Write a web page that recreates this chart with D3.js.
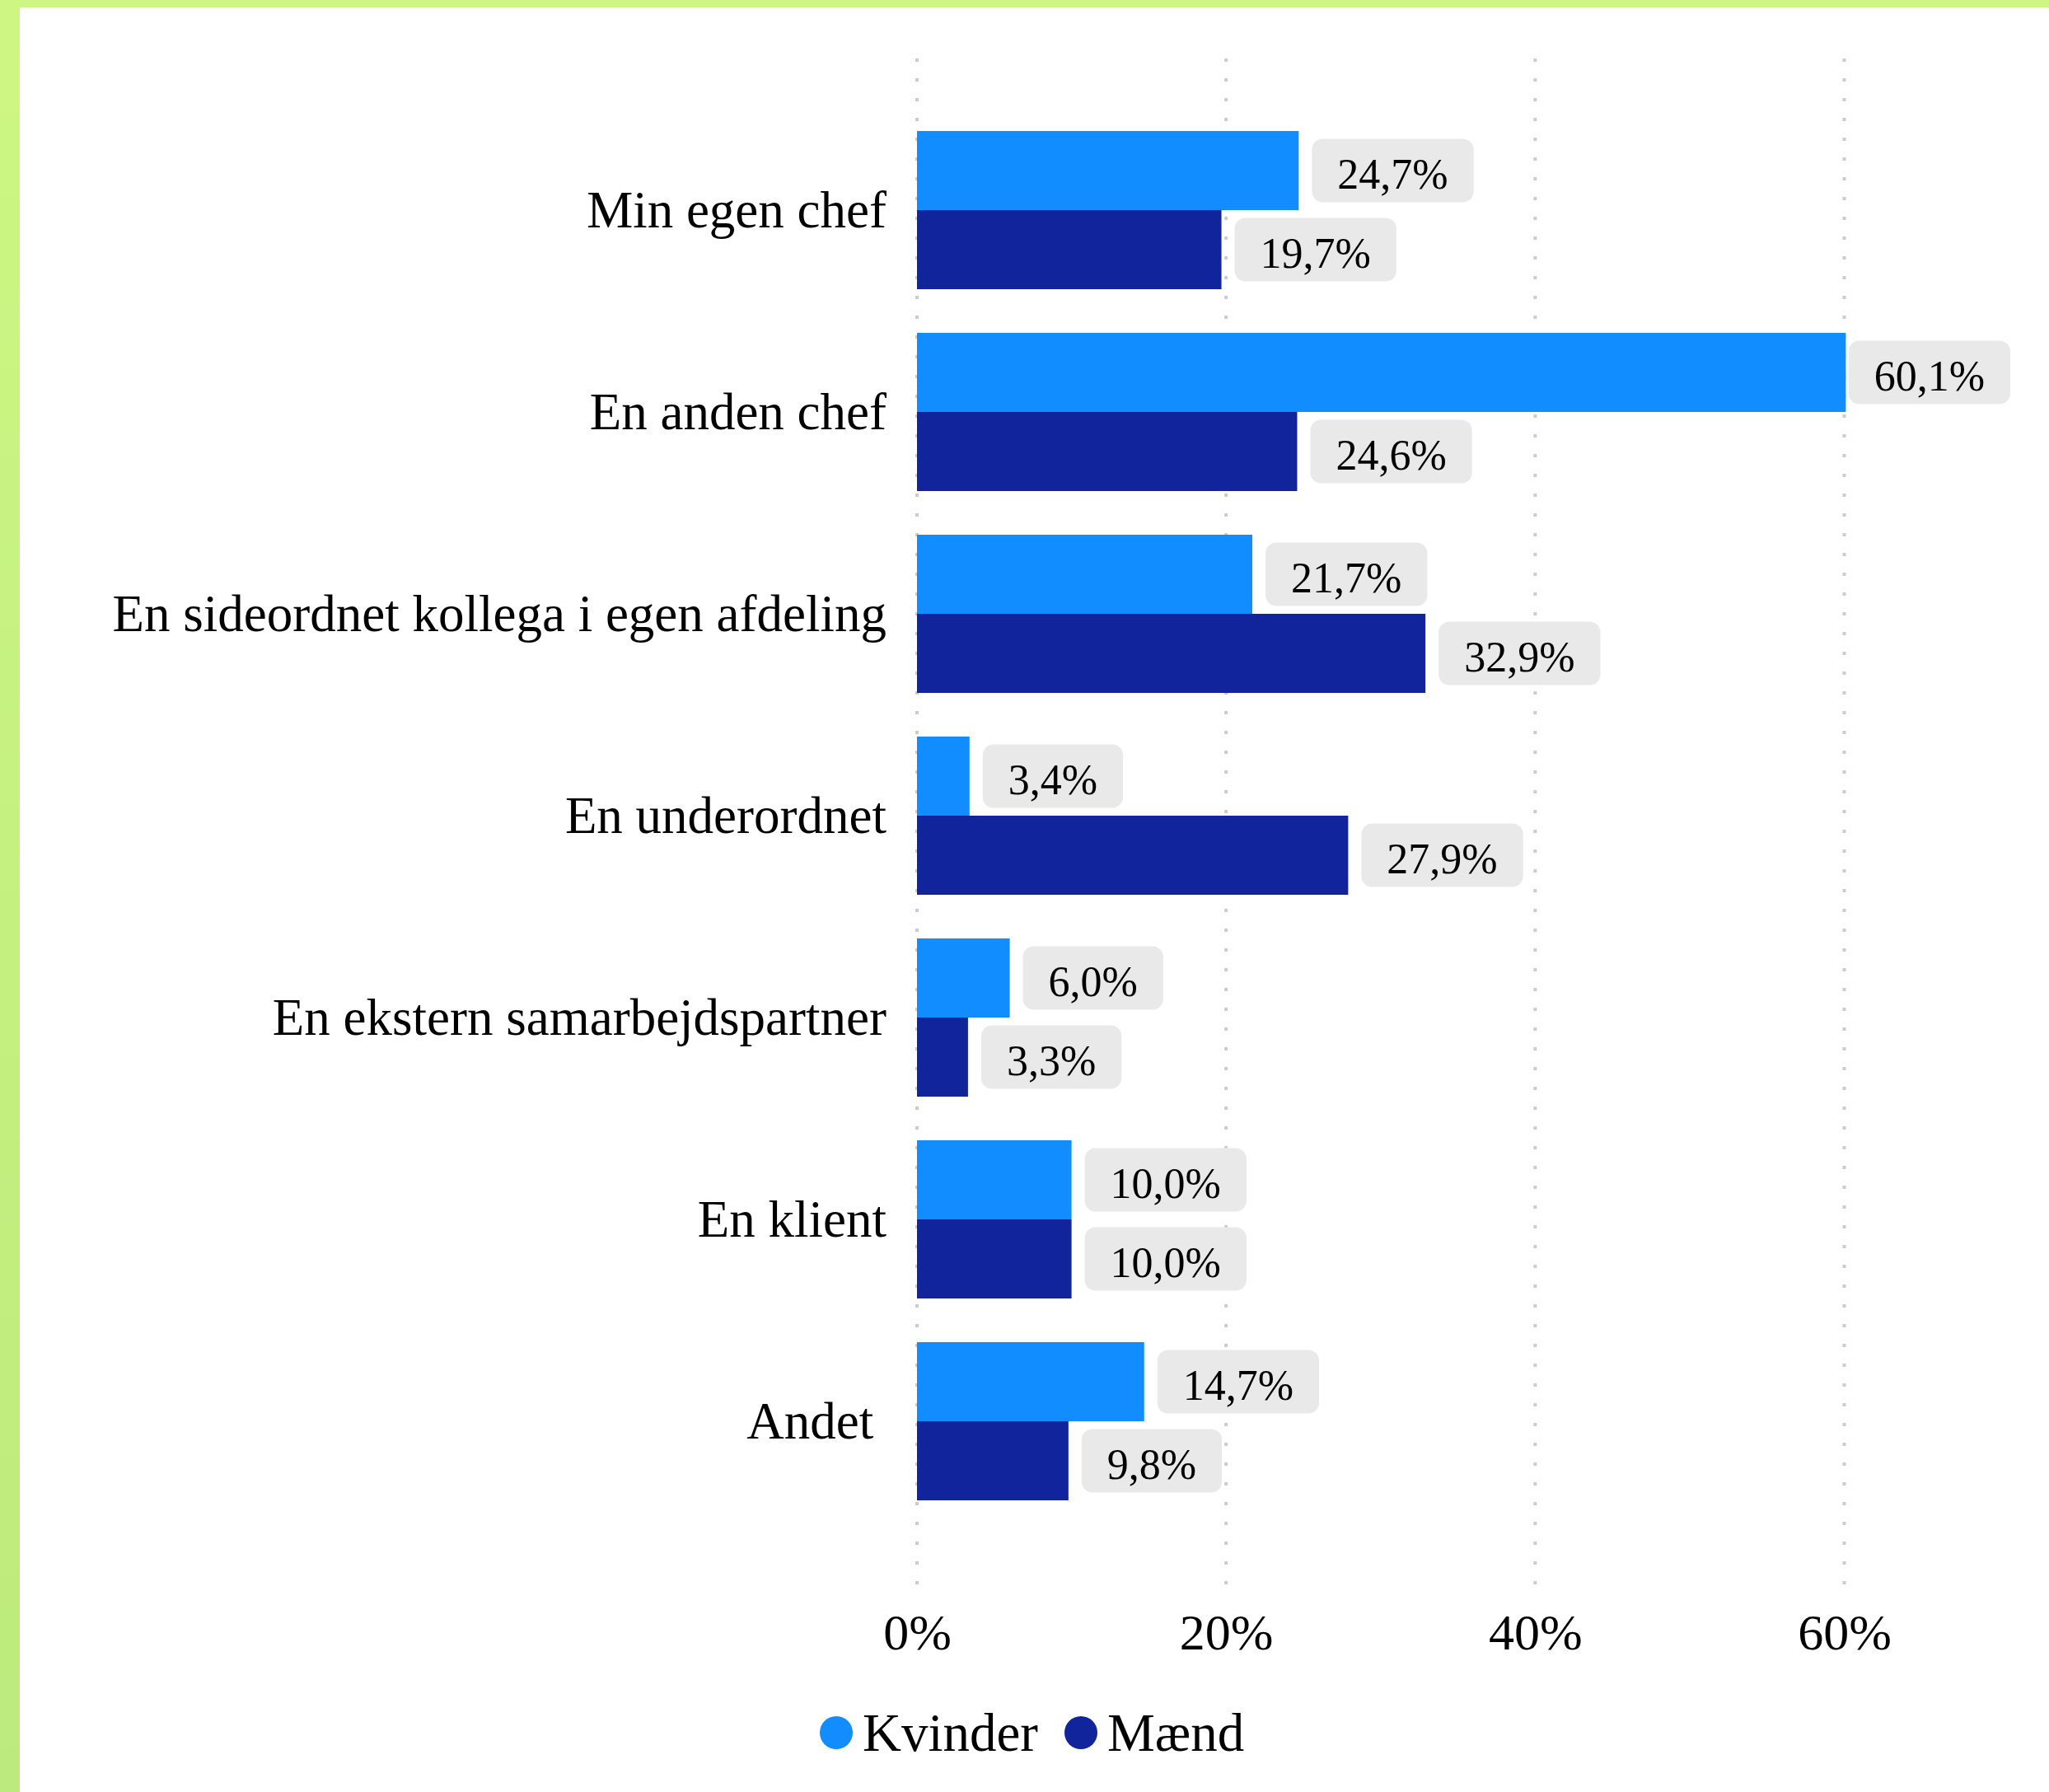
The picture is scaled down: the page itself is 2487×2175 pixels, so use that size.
<!DOCTYPE html>
<html lang="da">
<head>
  <meta charset="UTF-8">
  <title>Krænkende adfærd - hvem</title>
  <style>
    body { margin: 0; background: #fff; }
    svg { display: block; font-family: "Liberation Serif", "DejaVu Serif", serif; }
    text { fill: #000; }
  </style>
</head>
<body>
  <svg width="2487" height="2175"></svg>

  <script src="https://d3js.org/d3.v7.min.js"></script>
  <script>
  // 1. data
  var categories = [
    "Min egen chef",
    "En anden chef",
    "En sideordnet kollega i egen afdeling",
    "En underordnet",
    "En ekstern samarbejdspartner",
    "En klient",
    "Andet "
  ];
  var kvinder = [24.7, 60.1, 21.7, 3.4, 6.0, 10.0, 14.7];
  var maend   = [19.7, 24.6, 32.9, 27.9, 3.3, 10.0, 9.8];
  var seriesNames = ["Kvinder", "Mænd"];
  var seriesColors = ["#128dff", "#11249c"];
  var ticks = [0, 20, 40, 60];

  var rows = categories.map(function(c, i) {
    return { name: c, values: [kvinder[i], maend[i]] };
  });

  var width = 2487, height = 2175;
  var svg = d3.select("svg");

  // background frame
  var defs = svg.append("defs");
  var grad = defs.append("linearGradient").attr("id", "frame")
    .attr("x1", 0).attr("y1", 0).attr("x2", 0).attr("y2", 1);
  grad.append("stop").attr("offset", "0%").attr("stop-color", "#cdf782");
  grad.append("stop").attr("offset", "100%").attr("stop-color", "#bcea7c");
  svg.append("rect").attr("width", width).attr("height", height).attr("fill", "url(#frame)");
  svg.append("rect").attr("x", 24).attr("y", 9).attr("width", width - 24).attr("height", height - 9).attr("fill", "#fff");

  // 2. scales
  var x = d3.scaleLinear().domain([0, 60]).range([1113, 2238.5]);
  var y = d3.scaleBand().domain(categories).range([134.5, 1845.5])
    .paddingInner(0.2163).paddingOuter(0.1);
  var y1 = d3.scaleBand().domain(seriesNames).range([0, y.bandwidth()]);

  // grid
  svg.append("g").selectAll("line").data(ticks).enter().append("line")
    .attr("x1", function(d) { return x(d); })
    .attr("x2", function(d) { return x(d); })
    .attr("y1", 71).attr("y2", 1924)
    .attr("stroke", "#cccccc").attr("stroke-width", 4)
    .attr("stroke-dasharray", "4,20");

  // x axis labels
  var xAxis = d3.axisBottom(x).tickValues(ticks).tickSize(0).tickPadding(0)
    .tickFormat(function(d) { return d + "%"; });
  var ax = svg.append("g").attr("transform", "translate(0,1952)").call(xAxis);
  ax.select(".domain").remove();
  ax.selectAll("text").attr("font-size", 62).attr("dy", "0.8em")
    .attr("font-family", "Liberation Serif").attr("fill", "#000");

  // category labels
  var yAxis = d3.axisLeft(y).tickSize(0).tickPadding(0);
  var ay = svg.append("g").attr("transform", "translate(1076,0)").call(yAxis);
  ay.select(".domain").remove();
  ay.selectAll("text").attr("font-size", 63).attr("dy", "0.34em")
    .attr("font-family", "Liberation Serif").attr("fill", "#000")
    .style("white-space", "pre");

  // 3. bars
  var groups = svg.append("g").selectAll("g").data(rows).enter().append("g")
    .attr("transform", function(d) { return "translate(0," + y(d.name) + ")"; });

  groups.selectAll("rect").data(function(d) {
    return d.values.map(function(v, i) { return { key: seriesNames[i], value: v, i: i }; });
  }).enter().append("rect")
    .attr("x", x(0))
    .attr("y", function(d) { return y1(d.key); })
    .attr("width", function(d) { return x(d.value) - x(0); })
    .attr("height", y1.bandwidth())
    .attr("fill", function(d) { return seriesColors[d.i]; });

  // value labels
  var fmt = function(v) { return v.toFixed(1).replace(".", ",") + "%"; };
  var boxH = 77, padX = 31, maxRight = 2440;
  var lbl = groups.selectAll("g.lbl").data(function(d) {
    return d.values.map(function(v, i) { return { key: seriesNames[i], value: v }; });
  }).enter().append("g").attr("class", "lbl");

  lbl.each(function(d) {
    var g = d3.select(this);
    var cy = y1(d.key) + y1.bandwidth() / 2;
    var t = g.append("text").attr("font-size", 52).text(fmt(d.value));
    var tw = t.node().getComputedTextLength();
    var bw = tw + padX * 2;
    var bx = Math.min(x(d.value) + 16, maxRight - bw);
    g.insert("rect", "text")
      .attr("x", bx).attr("y", cy - boxH / 2)
      .attr("width", bw).attr("height", boxH)
      .attr("rx", 13).attr("fill", "#e9e9e9");
    t.attr("x", bx + bw / 2).attr("y", cy + 22).attr("text-anchor", "middle");
  });

  // legend
  var leg = svg.append("g").attr("transform", "translate(1015,2103)");
  var legX = [0, 297];
  seriesNames.forEach(function(s, i) {
    leg.append("circle").attr("cx", legX[i]).attr("cy", 0).attr("r", 20).attr("fill", seriesColors[i]);
    leg.append("text").attr("x", legX[i] + 32).attr("y", 22).attr("font-size", 65).text(s);
  });
  </script>
</body>
</html>
